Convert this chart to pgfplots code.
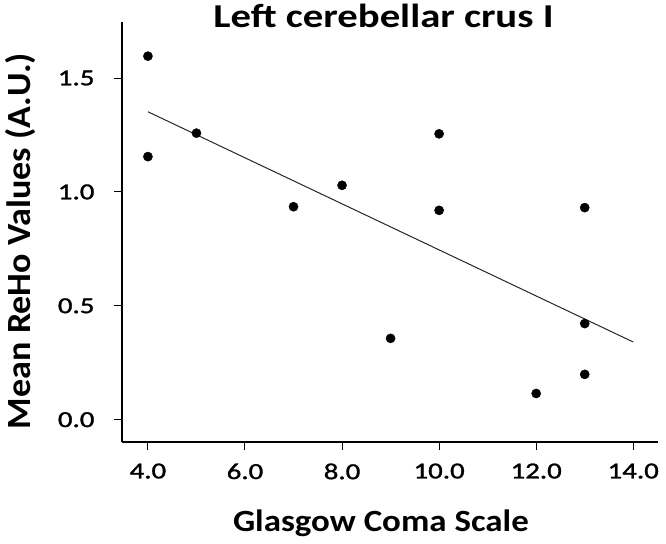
\documentclass[border=0pt]{standalone}
\usepackage{fontspec}
\setmainfont{Carlito}
\newfontfamily\tickfont[FakeBold=1.2]{Carlito}
\usepackage{pgfplots}
\pgfplotsset{compat=1.18}
\begin{document}
\begin{tikzpicture}
\begin{axis}[
    at={(0,0)}, anchor=south west,
    scale only axis, width=536bp, height=420bp,
    xmin=3.466, xmax=14.51, ymin=-0.098, ymax=1.746,
    axis x line*=bottom, axis y line*=left,
    x axis line style={-, line width=2.2bp},
    y axis line style={-, line width=1.4bp},
    xtick={4,6,8,10,12,14}, ytick={0,0.5,1,1.5},
    tick align=outside, major tick length=8bp,
    tick style={line width=1bp, black},
    ticklabel style={font=\tickfont\fontsize{23}{27}\selectfont, xscale=1.26},
    xticklabel style={yshift=-10bp},
    yticklabel style={xshift=-12bp},
    /pgf/number format/fixed,
    /pgf/number format/fixed zerofill,
    /pgf/number format/precision=1,
    /pgf/number format/assume math mode=true,
    title={Left cerebellar crus I},
    title style={font=\fontsize{33.5}{40}\selectfont\bfseries, xscale=1.22,
        at={(axis description cs:0.488,0.973)}, anchor=base},
    xlabel={Glasgow Coma Scale},
    xlabel style={font=\fontsize{31}{37}\selectfont\bfseries, xscale=1.13,
        at={([yshift=-89bp]axis description cs:0.483,0)}, anchor=base},
    ylabel={Mean ReHo Values (A.U.)},
    ylabel style={font=\fontsize{34}{40}\selectfont\bfseries, xscale=1.065,
        at={([xshift=-91bp]axis description cs:0,0.4786)}, anchor=base},
    clip=false,
]
% observed points
\addplot[only marks, mark=*, mark size=4.6bp, black] coordinates {
    (4,1.596) (4,1.155) (5,1.258) (7,0.935) (8,1.029) (9,0.357)
    (10,1.255) (10,0.919) (12,0.115) (13,0.931) (13,0.422) (13,0.199)
};
% fitted line
\addplot[black!85, line width=1bp] coordinates {(4,1.352) (14,0.341)};
\end{axis}
\pgfresetboundingbox
\path[use as bounding box] (-122bp,-102bp) rectangle (544bp,442bp);
\end{tikzpicture}
\end{document}
